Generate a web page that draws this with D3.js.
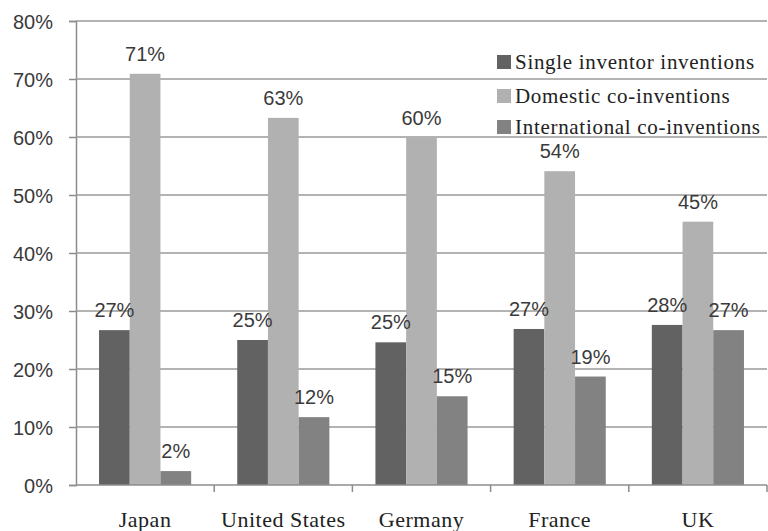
<!DOCTYPE html>
<html>
<head>
<meta charset="utf-8">
<script src="https://cdn.jsdelivr.net/npm/d3@7"></script>
<style>
  body { margin: 0; background: #fff; }
  svg { display: block; }
</style>
</head>
<body>
<div id="chart"></div>
<script>
// data
var countries = ["Japan", "United States", "Germany", "France", "UK"];
var seriesNames = ["Single inventor inventions", "Domestic co-inventions", "International co-inventions"];
var single = [26.7, 25.0, 24.6, 26.9, 27.6];
var domestic = [70.9, 63.3, 59.9, 54.1, 45.4];
var international = [2.4, 11.7, 15.3, 18.7, 26.7];
var yTicks = [0, 10, 20, 30, 40, 50, 60, 70, 80];

var width = 768, height = 531;
var margin = {top: 21, right: 1, bottom: 46, left: 76};
var colors = ["#626262", "#b1b1b1", "#828282"];
var numFont = "'Liberation Sans', Arial, sans-serif";
var txtFont = "'Liberation Serif', 'Times New Roman', serif";

var svg = d3.select("#chart").append("svg")
    .attr("width", width)
    .attr("height", height);

var x0 = d3.scaleBand()
    .domain(countries)
    .range([margin.left, width - margin.right])
    .paddingInner(1/3)
    .paddingOuter(1/6);

var x1 = d3.scaleBand()
    .domain(seriesNames)
    .range([0, x0.bandwidth()]);

var y = d3.scaleLinear()
    .domain([0, 80])
    .range([height - margin.bottom, margin.top]);

// gridlines + y labels
var yAxis = svg.append("g")
    .attr("transform", "translate(" + margin.left + ",0)")
    .call(d3.axisLeft(y).tickValues(yTicks).tickSize(7).tickFormat(function(d){ return d + "%"; }));
yAxis.select(".domain").attr("stroke", "#8c8c8c").attr("stroke-width", 1.5);
yAxis.selectAll(".tick line").attr("stroke", "#8c8c8c").attr("stroke-width", 1.5);
yAxis.selectAll(".tick text")
    .attr("x", -23)
    .attr("dy", "0.35em")
    .style("font-family", numFont)
    .style("font-size", "20px")
    .style("fill", "#3a3a3a");

svg.append("g").selectAll("line")
    .data(yTicks.slice(1))
    .enter().append("line")
    .attr("x1", margin.left)
    .attr("x2", width - margin.right)
    .attr("y1", function(d){ return y(d); })
    .attr("y2", function(d){ return y(d); })
    .attr("stroke", "#9a9a9a")
    .attr("stroke-width", 1.5);

// bars
var table = countries.map(function(c, i){
    return {country: c, values: [single[i], domestic[i], international[i]]};
});

var groups = svg.append("g").selectAll("g")
    .data(table)
    .enter().append("g")
    .attr("transform", function(d){ return "translate(" + x0(d.country) + ",0)"; });

groups.selectAll("rect")
    .data(function(d){ return d.values.map(function(v, j){ return {key: seriesNames[j], value: v, j: j}; }); })
    .enter().append("rect")
    .attr("x", function(d){ return x1(d.key); })
    .attr("width", x1.bandwidth())
    .attr("y", function(d){ return y(d.value); })
    .attr("height", function(d){ return y(0) - y(d.value); })
    .attr("fill", function(d){ return colors[d.j]; });

groups.selectAll("text")
    .data(function(d){ return d.values.map(function(v, j){ return {key: seriesNames[j], value: v}; }); })
    .enter().append("text")
    .attr("x", function(d){ return x1(d.key) + x1.bandwidth() / 2; })
    .attr("y", function(d){ return y(d.value) - 13; })
    .attr("text-anchor", "middle")
    .style("font-family", numFont)
    .style("font-size", "20px")
    .style("fill", "#3a3a3a")
    .text(function(d){ return Math.round(d.value) + "%"; });

// x axis
var xAxis = svg.append("g")
    .attr("transform", "translate(0," + y(0) + ")");
xAxis.append("line")
    .attr("x1", margin.left).attr("x2", width - margin.right)
    .attr("stroke", "#8c8c8c").attr("stroke-width", 1.5);
var step = x0.step();
xAxis.selectAll(".sep")
    .data(countries)
    .enter().append("line")
    .attr("class", "sep")
    .attr("x1", function(d){ return x0(d) + x0.bandwidth() + step / 6; })
    .attr("x2", function(d){ return x0(d) + x0.bandwidth() + step / 6; })
    .attr("y1", 0).attr("y2", 7)
    .attr("stroke", "#8c8c8c").attr("stroke-width", 1.5);
xAxis.selectAll(".cat")
    .data(countries)
    .enter().append("text")
    .attr("class", "cat")
    .attr("x", function(d){ return x0(d) + x0.bandwidth() / 2; })
    .attr("y", 42)
    .attr("text-anchor", "middle")
    .style("font-family", txtFont)
    .style("font-size", "22px")
    .style("letter-spacing", "0.5px")
    .style("fill", "#222")
    .text(function(d){ return d; });

// legend
var legendY = [62, 96, 127];
var legend = svg.append("g").selectAll("g")
    .data(seriesNames)
    .enter().append("g")
    .attr("transform", function(d, i){ return "translate(497," + legendY[i] + ")"; });
legend.append("rect")
    .attr("x", 0).attr("y", -7)
    .attr("width", 14).attr("height", 14)
    .attr("fill", function(d, i){ return colors[i]; });
legend.append("text")
    .attr("x", 18)
    .attr("dy", "0.35em")
    .style("font-family", txtFont)
    .style("font-size", "21px")
    .style("letter-spacing", "0.7px")
    .style("fill", "#222")
    .text(function(d){ return d; });
</script>
</body>
</html>
